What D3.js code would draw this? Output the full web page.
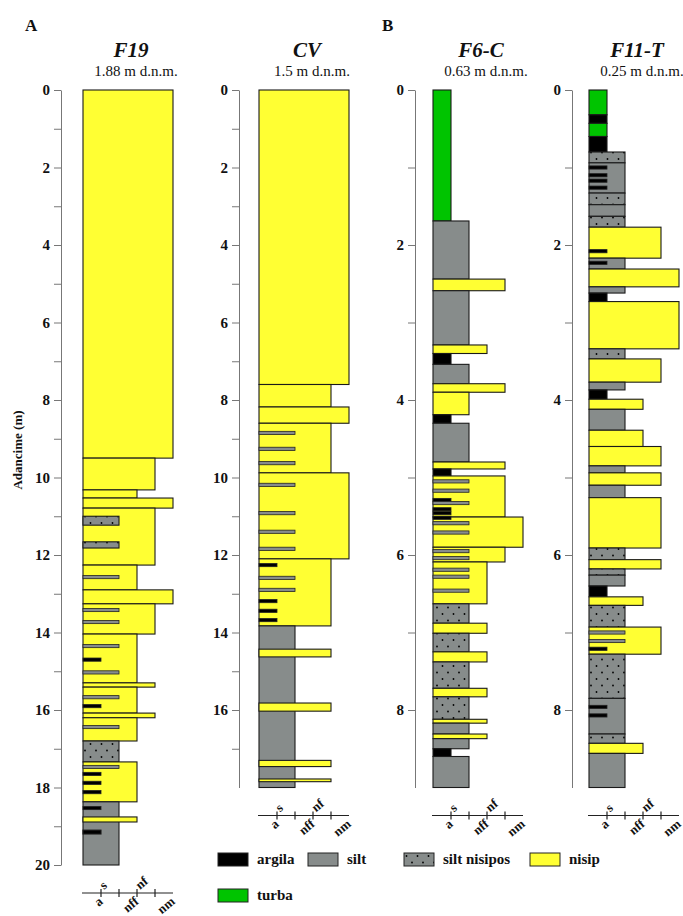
<!DOCTYPE html>
<meta charset="utf-8">
<html>
<head>
<style>
body { margin: 0; background: #fff; }
text { font-family: "Liberation Serif", "Times New Roman", serif; fill: #111; }
.axis path, .axis line { stroke: #777; }
.axis text { font-size: 15px; font-weight: bold; font-family: "Liberation Serif", serif; fill: #111; }
</style>
</head>
<body>
<div id="chart"></div>
<script src="https://cdn.jsdelivr.net/npm/d3@7"></script>
<script>

// grain size classes, left to right on the bottom scale
var grainSizes = ["a", "s", "nff", "nf", "nm"];
var grainAbove = ["s", "nf"];

var lithLabels = ["argila", "silt", "silt nisipos", "nisip", "turba"];
var lithTypes  = ["argila", "silt", "siltnis", "nisip", "turba"];

// layers: [top (m), bottom (m), lithology, grain size]
var f19Layers = [
  [0, 9.5, "nisip", "nm"], [9.5, 10.32, "nisip", "nf"], [10.32, 10.53, "nisip", "nff"],
  [10.53, 10.79, "nisip", "nm"], [10.79, 12.26, "nisip", "nf"],
  [11.0, 11.23, "siltnis", "s"], [11.66, 11.82, "siltnis", "s"],
  [12.26, 12.9, "nisip", "nff"], [12.9, 13.26, "nisip", "nm"], [13.26, 14.04, "nisip", "nf"],
  [14.04, 15.3, "nisip", "nff"], [15.3, 15.41, "nisip", "nf"], [15.41, 16.08, "nisip", "nff"],
  [16.08, 16.2, "nisip", "nf"], [16.2, 16.8, "nisip", "nff"], [16.8, 17.34, "siltnis", "s"],
  [17.34, 18.37, "nisip", "nff"], [18.37, 20, "silt", "s"], [18.76, 18.89, "nisip", "nff"],
  [19.1, 19.2, "argila", "a"]
];
// thin lenses: [depth (m), lithology, grain size]
var f19Lines = [
  [12.57, "silt", "s"], [13.42, "silt", "s"], [13.73, "silt", "s"], [14.35, "silt", "s"],
  [14.7, "argila", "a"], [15.03, "silt", "s"], [15.67, "silt", "s"], [15.9, "argila", "a"],
  [16.44, "silt", "s"], [17.47, "silt", "s"], [17.65, "argila", "a"], [17.88, "argila", "a"],
  [18.12, "argila", "a"], [18.53, "argila", "a"]
];

var cvLayers = [
  [0, 7.6, "nisip", "nm"], [7.6, 8.18, "nisip", "nf"], [8.18, 8.6, "nisip", "nm"],
  [8.6, 9.88, "nisip", "nf"], [9.88, 12.1, "nisip", "nm"], [12.1, 13.83, "nisip", "nf"],
  [13.83, 18.0, "silt", "s"], [14.43, 14.63, "nisip", "nf"], [15.82, 16.03, "nisip", "nf"],
  [17.3, 17.46, "nisip", "nf"], [17.78, 17.85, "nisip", "nf"]
];
var cvLines = [
  [8.85, "silt", "s"], [9.26, "silt", "s"], [9.63, "silt", "s"], [10.19, "silt", "s"],
  [10.92, "silt", "s"], [11.4, "silt", "s"], [11.84, "silt", "s"], [12.26, "argila", "a"],
  [12.59, "silt", "s"], [12.9, "silt", "s"], [13.19, "argila", "a"], [13.44, "argila", "a"],
  [13.68, "argila", "a"]
];

var f6Layers = [
  [0, 1.69, "turba", "a"], [1.69, 2.44, "silt", "s"], [2.44, 2.59, "nisip", "nf"],
  [2.59, 3.29, "silt", "s"], [3.29, 3.4, "nisip", "nff"], [3.4, 3.54, "argila", "a"],
  [3.54, 3.79, "silt", "s"], [3.79, 3.9, "nisip", "nf"], [3.9, 4.19, "nisip", "s"],
  [4.19, 4.3, "argila", "a"], [4.3, 4.8, "silt", "s"], [4.8, 4.89, "nisip", "nf"],
  [4.89, 4.98, "argila", "a"], [4.98, 5.51, "nisip", "nf"], [5.51, 5.9, "nisip", "nm"],
  [5.9, 6.09, "nisip", "nf"], [6.09, 6.63, "nisip", "nff"], [6.63, 6.88, "siltnis", "s"],
  [6.88, 7.01, "nisip", "nff"], [7.01, 7.25, "siltnis", "s"], [7.25, 7.38, "nisip", "nff"],
  [7.38, 7.72, "siltnis", "s"], [7.72, 7.83, "nisip", "nff"], [7.83, 8.12, "siltnis", "s"],
  [8.12, 8.17, "nisip", "nff"], [8.17, 8.31, "silt", "s"], [8.31, 8.37, "nisip", "nff"],
  [8.37, 8.5, "silt", "s"], [8.5, 8.6, "argila", "a"], [8.6, 9.0, "silt", "s"]
];
var f6Lines = [
  [5.05, "silt", "s"], [5.17, "silt", "s"], [5.29, "argila", "a"], [5.33, "silt", "s"],
  [5.41, "argila", "a"], [5.46, "argila", "a"], [5.52, "argila", "a"], [5.59, "silt", "s"],
  [5.71, "silt", "s"], [5.95, "silt", "s"], [6.04, "silt", "s"], [6.19, "silt", "s"],
  [6.28, "silt", "s"], [6.46, "silt", "s"]
];

var f11Layers = [
  [0, 0.32, "turba", "a"], [0.32, 0.43, "argila", "a"], [0.43, 0.6, "turba", "a"],
  [0.6, 0.8, "argila", "a"], [0.8, 0.94, "siltnis", "s"], [0.94, 1.33, "silt", "s"],
  [1.33, 1.48, "siltnis", "s"], [1.48, 1.63, "silt", "s"], [1.63, 1.77, "siltnis", "s"],
  [1.77, 2.17, "nisip", "nf"], [2.17, 2.31, "silt", "s"], [2.31, 2.54, "nisip", "nm"],
  [2.54, 2.62, "silt", "s"], [2.62, 2.73, "argila", "a"], [2.73, 3.34, "nisip", "nm"],
  [3.34, 3.47, "siltnis", "s"], [3.47, 3.77, "nisip", "nf"], [3.77, 3.87, "silt", "s"],
  [3.87, 3.99, "argila", "a"], [3.99, 4.12, "nisip", "nff"], [4.12, 4.39, "silt", "s"],
  [4.39, 4.6, "nisip", "nff"], [4.6, 4.85, "nisip", "nf"], [4.85, 4.94, "silt", "s"],
  [4.94, 5.1, "nisip", "nf"], [5.1, 5.26, "silt", "s"], [5.26, 5.91, "nisip", "nf"],
  [5.91, 6.06, "siltnis", "s"], [6.06, 6.18, "nisip", "nf"], [6.18, 6.26, "siltnis", "s"],
  [6.26, 6.4, "silt", "s"], [6.4, 6.54, "argila", "a"], [6.54, 6.65, "nisip", "nff"],
  [6.65, 6.93, "siltnis", "s"], [6.93, 7.28, "nisip", "nf"], [7.28, 7.85, "siltnis", "s"],
  [7.85, 8.31, "silt", "s"], [8.31, 8.43, "siltnis", "s"], [8.43, 8.56, "nisip", "nff"],
  [8.56, 9.0, "silt", "s"]
];
var f11Lines = [
  [1.0, "argila", "a"], [1.1, "argila", "a"], [1.17, "argila", "a"], [1.26, "argila", "a"],
  [2.08, "argila", "a"], [2.23, "argila", "a"], [7.0, "silt", "s"], [7.11, "silt", "s"],
  [7.21, "argila", "a"], [7.96, "argila", "a"], [8.07, "argila", "a"]
];

var colNames = ["F19", "CV", "F6-C", "F11-T"];
var colElev  = ["1.88 m d.n.m.", "1.5 m d.n.m.", "0.63 m d.n.m.", "0.25 m d.n.m."];
var colDepth = [20, 18, 9, 9];
var colTickMax = [20, 17, 8, 8];

var fills = {
  argila: "#000000", silt: "#878c8b", siltnis: "url(#dots)",
  nisip: "#ffff33", turba: "#00c400"
};

// layout
var width = 683, height = 916, top0 = 90;
var columns = [
  {x0: 83,  ax: 61,  pxm: 38.75, layers: f19Layers, lines: f19Lines},
  {x0: 259, ax: 239, pxm: 38.75, layers: cvLayers,  lines: cvLines},
  {x0: 433, ax: 415, pxm: 77.5,  layers: f6Layers,  lines: f6Lines},
  {x0: 589, ax: 572, pxm: 77.5,  layers: f11Layers, lines: f11Lines}
];

var svg = d3.select("#chart").append("svg")
  .attr("width", width).attr("height", height);

var pat = svg.append("defs").append("pattern")
  .attr("id", "dots").attr("patternUnits", "userSpaceOnUse")
  .attr("width", 11).attr("height", 13);
pat.append("rect").attr("width", 11).attr("height", 13).attr("fill", "#878c8b");
pat.append("circle").attr("cx", 2.5).attr("cy", 3).attr("r", 0.9).attr("fill", "#000");
pat.append("circle").attr("cx", 8).attr("cy", 9.5).attr("r", 0.9).attr("fill", "#000");

svg.append("text").attr("x", 25).attr("y", 31).text("A")
  .style("font-size", "17px").style("font-weight", "bold");
svg.append("text").attr("x", 382).attr("y", 31).text("B")
  .style("font-size", "17px").style("font-weight", "bold");

svg.append("text")
  .attr("transform", "translate(22,450) rotate(-90)")
  .attr("text-anchor", "middle")
  .style("font-size", "13px").style("font-weight", "bold")
  .text("Adancime (m)");

columns.forEach(function(c, i) {
  var g = svg.append("g");
  var y = d3.scaleLinear().domain([0, colDepth[i]]).range([top0, top0 + colDepth[i] * c.pxm]);
  var x = d3.scaleLinear().domain([0, grainSizes.length]).range([c.x0, c.x0 + 90]);
  var w = function(s) { return x(grainSizes.indexOf(s) + 1) - c.x0; };

  // titles
  var cx = c.x0 + 48;
  g.append("text").attr("x", cx).attr("y", 57).attr("text-anchor", "middle")
    .style("font-size", "21px").style("font-weight", "bold").style("font-style", "italic")
    .text(colNames[i]);
  g.append("text").attr("x", cx + 5).attr("y", 76).attr("text-anchor", "middle")
    .style("font-size", "15px").text(colElev[i]);

  // depth axis
  g.append("g").attr("class", "axis")
    .attr("transform", "translate(" + c.ax + ",0)")
    .call(d3.axisLeft(y)
      .tickValues(d3.range(0, colTickMax[i] + 1))
      .tickFormat(function(d) { return d % 2 === 0 ? d : ""; })
      .tickSize(7).tickSizeOuter(0).tickPadding(4));

  // layers
  g.selectAll(".layer").data(c.layers).enter().append("rect")
    .attr("x", c.x0)
    .attr("y", function(d) { return y(d[0]); })
    .attr("width", function(d) { return w(d[3]); })
    .attr("height", function(d) { return y(d[1]) - y(d[0]); })
    .attr("fill", function(d) { return fills[d[2]]; })
    .attr("stroke", "#1a1a1a").attr("stroke-width", 1.1);

  // thin lenses
  g.selectAll(".lens").data(c.lines).enter().append("rect")
    .attr("x", c.x0)
    .attr("y", function(d) { return y(d[0]) - 1.6; })
    .attr("width", function(d) { return w(d[2]); })
    .attr("height", 3.2)
    .attr("fill", function(d) { return fills[d[1]]; })
    .attr("stroke", "#222").attr("stroke-width", 0.8);

  // grain size scale
  var gy = y(colDepth[i]) + 28;
  var gs = g.append("g").attr("transform", "translate(0," + gy + ")");
  gs.append("line").attr("x1", c.x0 - 1).attr("x2", x(5))
    .attr("stroke", "#222").attr("stroke-width", 1.2);
  gs.selectAll(".gt").data(d3.range(1, 5)).enter().append("line")
    .attr("x1", function(d) { return x(d); }).attr("x2", function(d) { return x(d); })
    .attr("y1", -4).attr("y2", 4).attr("stroke", "#222").attr("stroke-width", 1.2);
  gs.selectAll(".gl").data(grainSizes).enter().append("text")
    .attr("transform", function(d, k) {
      if (grainAbove.indexOf(d) >= 0) return "translate(" + (x(k) + 3) + ",-3) rotate(-40)";
      return "translate(" + (x(k + 1) - 3) + ",3) rotate(-40)";
    })
    .attr("text-anchor", function(d) { return grainAbove.indexOf(d) >= 0 ? "start" : "end"; })
    .attr("dy", function(d) { return grainAbove.indexOf(d) >= 0 ? 0 : "0.68em"; })
    .style("font-size", "13px").style("font-weight", "bold")
    .text(function(d) { return d; });
});

// legend
var legendPos = [[218, 0], [308, 0], [404, 0], [530, 0], [218, 1]];
var legY = 853, legRow = 36;
var leg = svg.selectAll(".legend").data(lithTypes).enter().append("g")
  .attr("transform", function(d, i) {
    return "translate(" + legendPos[i][0] + "," + (legY + legendPos[i][1] * legRow) + ")";
  });
leg.append("rect").attr("width", 30).attr("height", 13)
  .attr("fill", function(d) { return fills[d]; })
  .attr("stroke", "#222").attr("stroke-width", 1);
leg.append("text").attr("x", 39).attr("y", 11)
  .style("font-size", "15px").style("font-weight", "bold")
  .text(function(d, i) { return lithLabels[i]; });

</script>
</body>
</html>
